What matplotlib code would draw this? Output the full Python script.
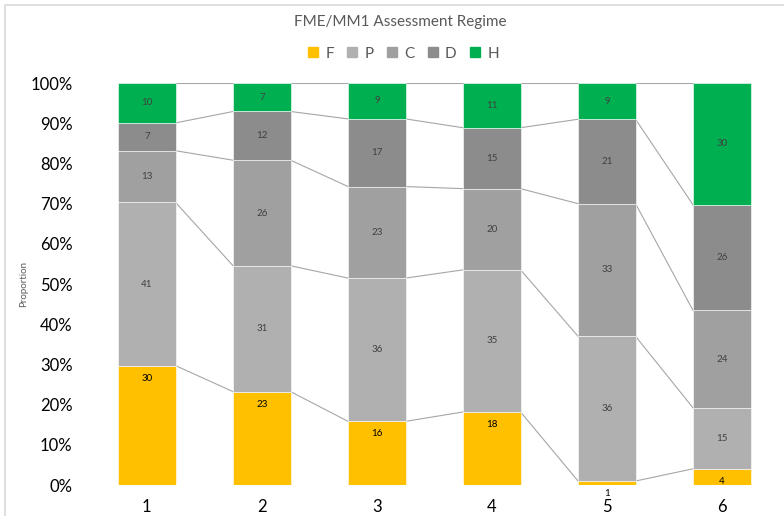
import numpy as np
import matplotlib.pyplot as plt
from matplotlib.patches import Rectangle

plt.rcParams['font.family'] = ['Lato', 'DejaVu Sans']

groups = ['1', '2', '3', '4', '5', '6']
grades = ['F', 'P', 'C', 'D', 'H']
F = [30, 23, 16, 18, 1, 4]
P = [41, 31, 36, 35, 36, 15]
C = [13, 26, 23, 20, 33, 24]
D = [7, 12, 17, 15, 21, 26]
H = [10, 7, 9, 11, 9, 30]
colors = ['#FFC000', '#B0B0B0', '#A0A0A0', '#8C8C8C', '#00B050']

data = np.array([F, P, C, D, H], dtype=float)
totals = data.sum(axis=0)
props = data / totals

fig = plt.figure(figsize=(7.84, 5.16), dpi=100)
ax = fig.add_axes([0.114, 0.060, 0.880, 0.779])

x = np.arange(len(groups))
w = 0.5
bottom = np.zeros(len(groups))
for i, g in enumerate(grades):
    ax.bar(x, props[i], w, bottom=bottom, color=colors[i], label=g,
           edgecolor='white', linewidth=0.4, zorder=2)
    top = bottom + props[i]
    # series lines
    for j in range(len(groups) - 1):
        ax.plot([x[j] + w / 2, x[j + 1] - w / 2], [top[j], top[j + 1]],
                color='#A6A6A6', lw=0.8, zorder=1)
    # labels
    for j in range(len(groups)):
        if g == 'F':
            ax.annotate(f'{int(data[i, j])}', (x[j], top[j]), xytext=(0, -9),
                        textcoords='offset points', ha='center', va='center',
                        fontsize=7, color='black', annotation_clip=False)
        else:
            ax.text(x[j], bottom[j] + props[i][j] / 2, f'{int(data[i, j])}',
                    ha='center', va='center', fontsize=7, color='#404040')
    bottom = top

ax.set_xlim(-0.5, len(groups) - 0.5)
ax.set_ylim(0, 1)
ax.set_xticks(x)
ax.set_xticklabels(groups, fontsize=12)
ax.set_yticks(np.arange(0, 1.01, 0.1))
ax.set_yticklabels([f'{int(round(v * 100))}%' for v in np.arange(0, 1.01, 0.1)], fontsize=12)
ax.tick_params(length=0)
ax.tick_params(axis='y', pad=12)
ax.tick_params(axis='x', pad=10)
for s in ax.spines.values():
    s.set_visible(False)
ax.set_ylabel('Proportion', fontsize=7, color='#595959', labelpad=2)

fig.text(0.51, 0.957, 'FME/MM1 Assessment Regime', ha='center', va='center',
         fontsize=11, color='#595959')
handles = [plt.Line2D([], [], marker='s', ls='', color=c, markersize=6.5) for c in colors]
fig.legend(handles, grades, loc='center', bbox_to_anchor=(0.512, 0.896), ncol=5,
           frameon=False, fontsize=11, handletextpad=0.2, columnspacing=0.6,
           handlelength=1.2, labelcolor='#595959')

fig.patches.append(Rectangle((5 / 784, -0.1), 1.2, (516 - 5) / 516 + 0.1,
                             transform=fig.transFigure, fill=False,
                             edgecolor='#D9D9D9', lw=1.2))

fig.savefig('out.png', dpi=100)
